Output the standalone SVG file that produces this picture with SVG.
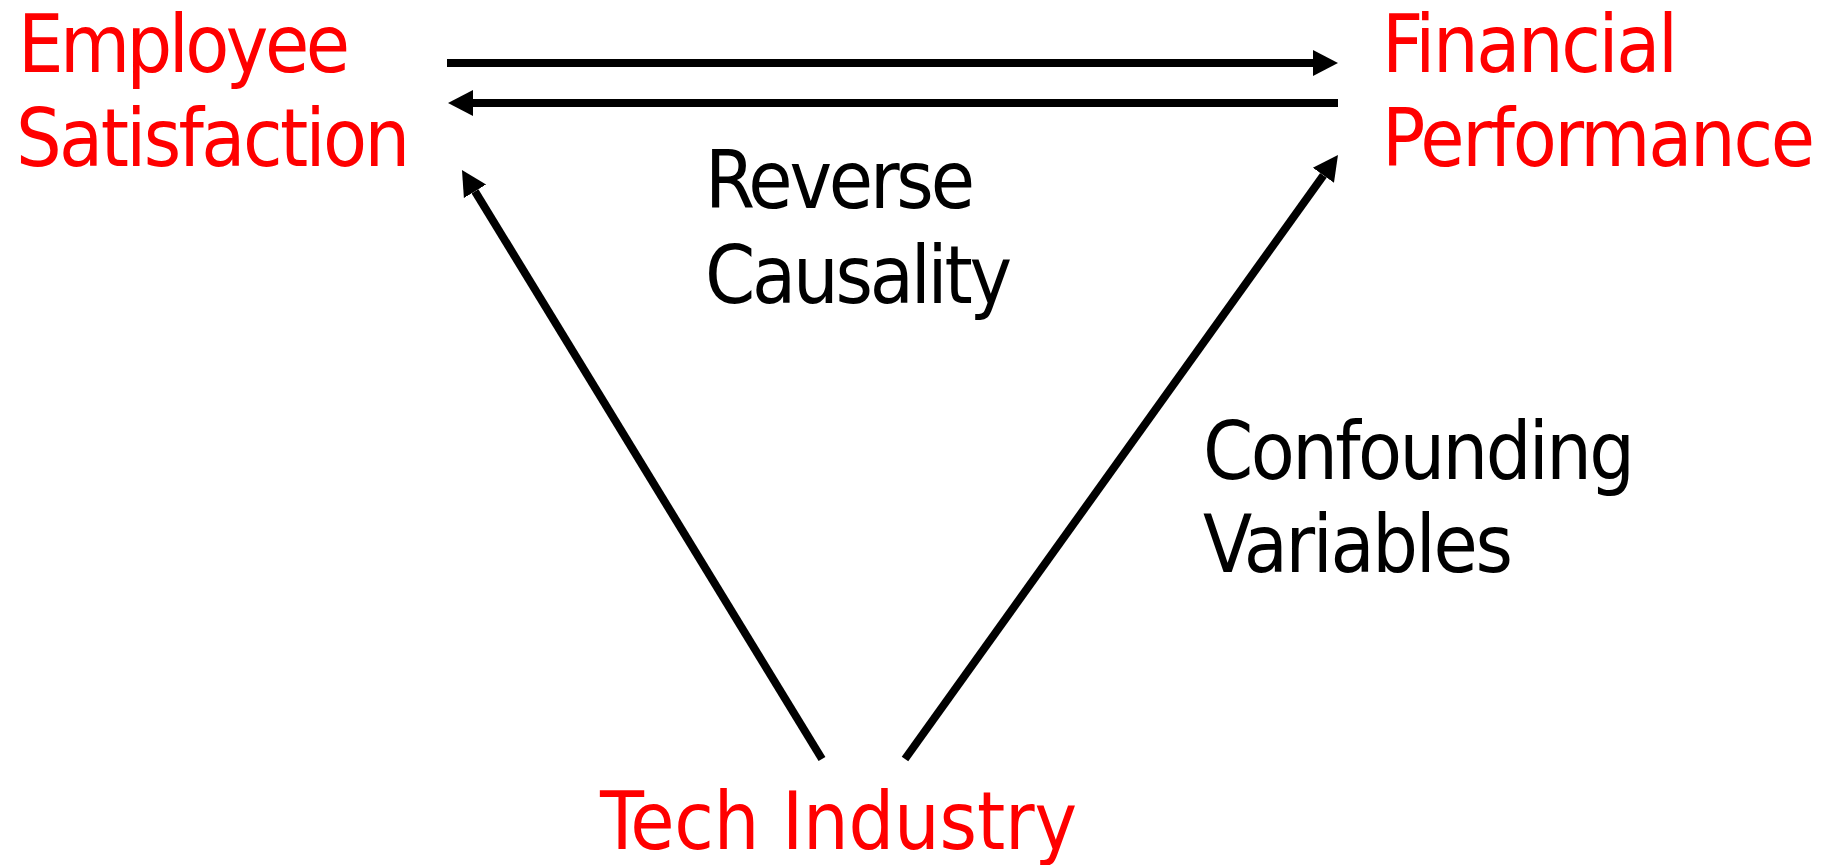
<svg xmlns="http://www.w3.org/2000/svg" width="1841" height="865" viewBox="0 0 1841 865">
  <style>
    .lbl { font-family: "DejaVu Sans Condensed", "DejaVu Sans", Verdana, sans-serif; font-size: 80px; }
    .node { fill: #ff0000; }
    .note { fill: #000000; }
    .edge { stroke: #000000; stroke-width: 8; fill: none; stroke-linecap: butt; }
  </style>
  <defs>
    <marker id="head" markerUnits="userSpaceOnUse" markerWidth="26" markerHeight="28" refX="0" refY="13" orient="auto" viewBox="0 0 26 26">
      <path d="M0,0 L25,13 L0,26 Z" fill="#000000"/>
    </marker>
  </defs>

  <g id="employee-satisfaction">
    <text class="lbl node" x="18" y="72" textLength="332">Employee</text>
    <text class="lbl node" x="16" y="166" textLength="394">Satisfaction</text>
  </g>

  <g id="financial-performance">
    <text class="lbl node" x="1382" y="72" textLength="296">Financial</text>
    <text class="lbl node" x="1382" y="166" textLength="433">Performance</text>
  </g>

  <g id="tech-industry">
    <text class="lbl node" x="600" y="849" textLength="477">Tech Industry</text>
  </g>

  <g id="reverse-causality">
    <text class="lbl note" x="705" y="208" textLength="270">Reverse</text>
    <text class="lbl note" x="705" y="303" textLength="307">Causality</text>
  </g>

  <g id="confounding-variables">
    <text class="lbl note" x="1203" y="479" textLength="432">Confounding</text>
    <text class="lbl note" x="1203" y="572" textLength="310">Variables</text>
  </g>

  <g id="connectors">
    <line class="edge" x1="447" y1="63" x2="1313" y2="63" marker-end="url(#head)"/>
    <line class="edge" x1="1338" y1="103" x2="473" y2="103" marker-end="url(#head)"/>
    <line class="edge" x1="822" y1="759" x2="475" y2="191.3" marker-end="url(#head)"/>
    <line class="edge" x1="905" y1="759" x2="1323.4" y2="175.3" marker-end="url(#head)"/>
  </g>
</svg>
